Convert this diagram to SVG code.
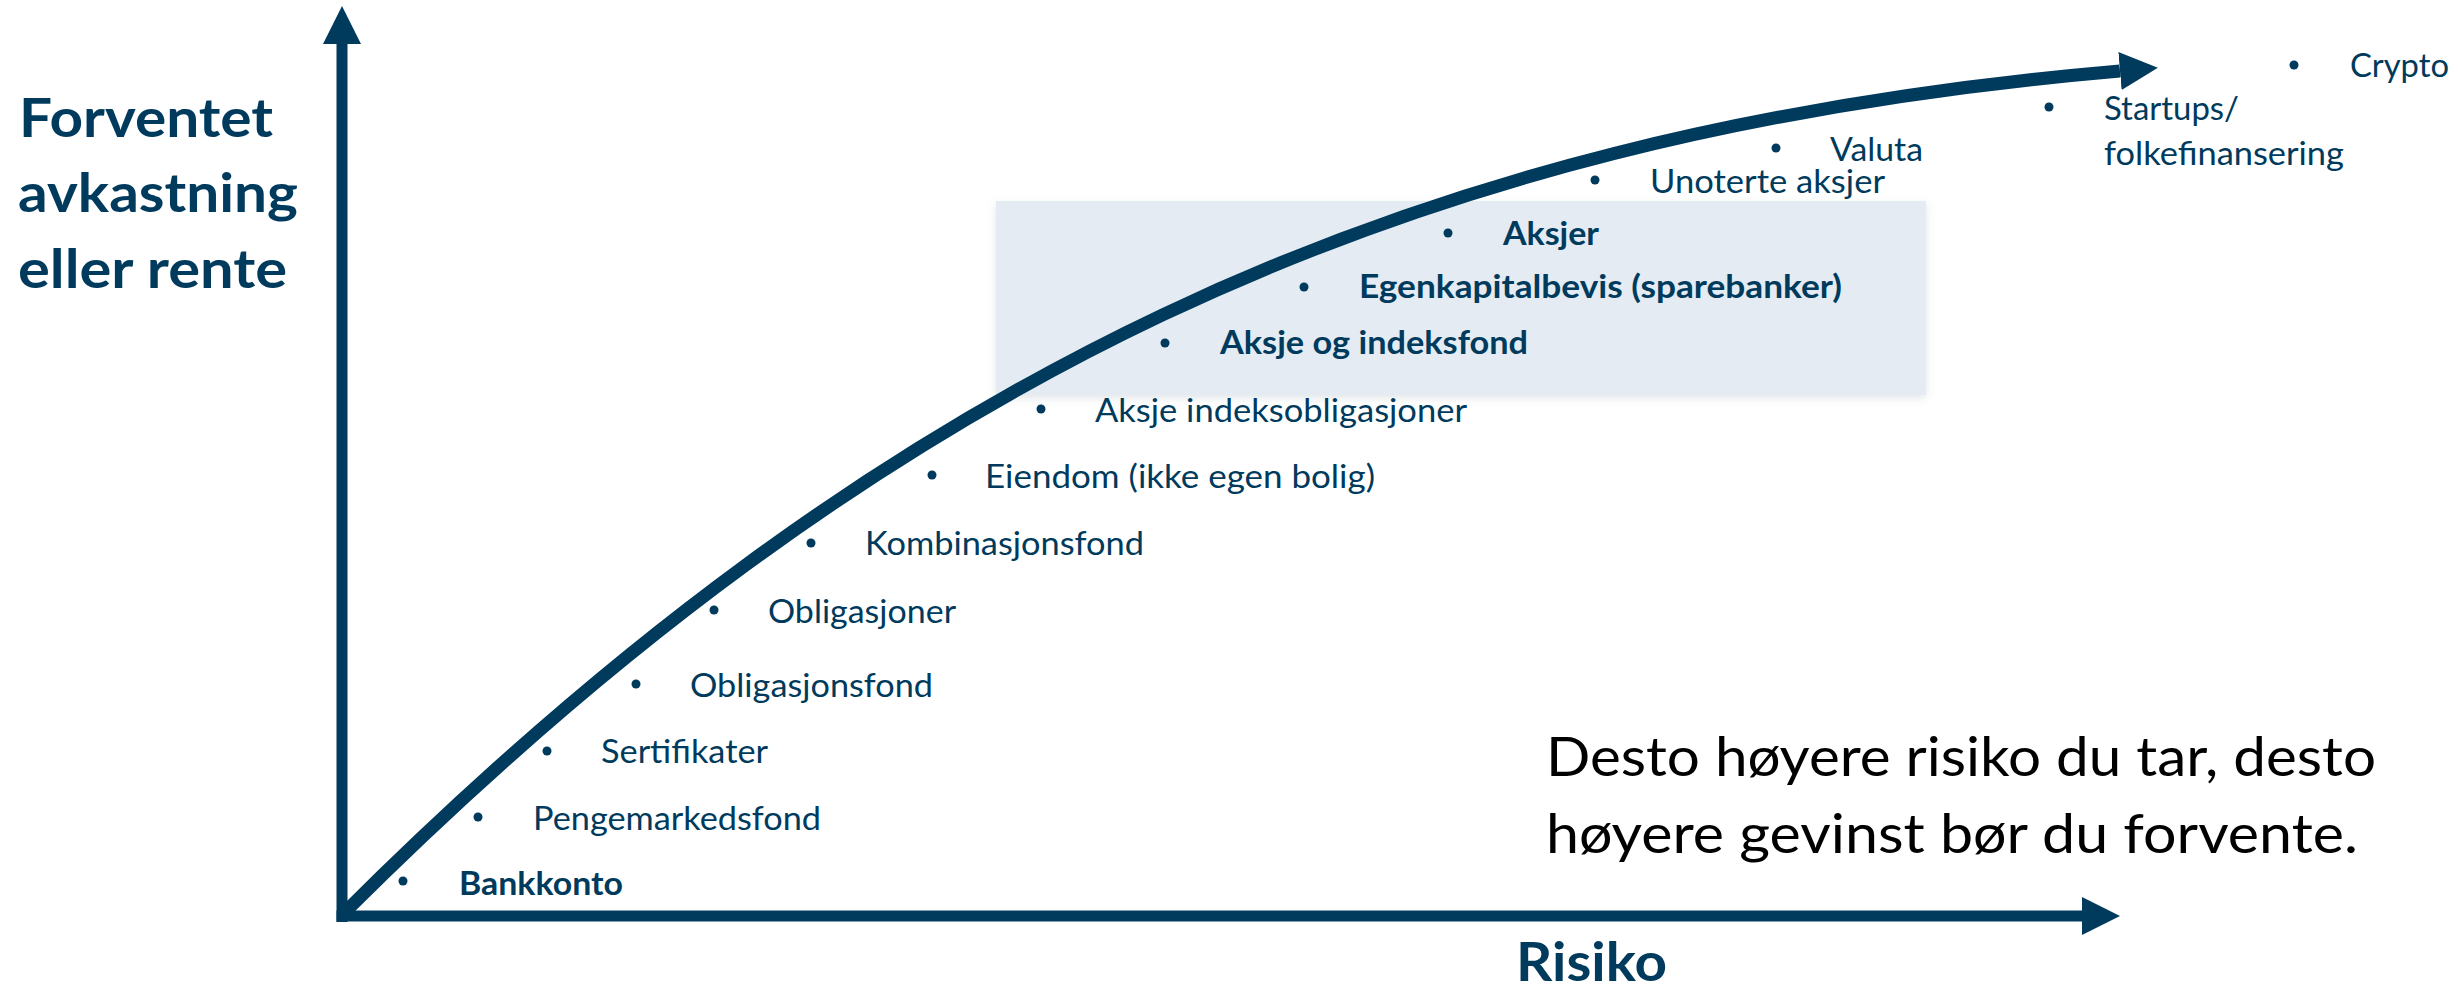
<svg xmlns="http://www.w3.org/2000/svg" width="2458" height="992" viewBox="0 0 2458 992">
  <style>
    .item { font-family: Lato, "Open Sans", "Liberation Sans", sans-serif; font-size: 32px; fill: #003A5C; }
    .b { font-weight: bold; }
    .big { font-family: Lato, "Open Sans", "Liberation Sans", sans-serif; font-size: 54px; }
    .lbl { fill: #003A5C; font-weight: bold; }
    .note { fill: #000000; }
    .dot { fill: #003A5C; }
    .axis { stroke: #003A5C; stroke-width: 11; fill: none; }
    .curve { stroke: #003A5C; stroke-width: 13; fill: none; }
  </style>
  <defs>
    <marker id="ah" markerUnits="userSpaceOnUse" markerWidth="38" markerHeight="38" viewBox="0 -18 36 36" refX="0" refY="0" orient="auto">
      <path d="M0,-18 L36,0 L0,18 z" fill="#003A5C"/>
    </marker>
    <filter id="soft" x="-5%" y="-10%" width="110%" height="120%">
      <feGaussianBlur in="SourceAlpha" stdDeviation="4"/>
      <feOffset dx="0" dy="3" result="b"/>
      <feFlood flood-color="#8a9aa8" flood-opacity="0.25"/>
      <feComposite in2="b" operator="in"/>
      <feMerge><feMergeNode/><feMergeNode in="SourceGraphic"/></feMerge>
    </filter>
  </defs>
  <rect width="2458" height="992" fill="#ffffff"/>

  <g id="highlight">
    <rect x="996" y="201" width="930" height="194" fill="#E4EBF3" filter="url(#soft)"/>
  </g>

  <g id="connectors">
    <line class="axis" x1="342" y1="922" x2="342" y2="44" marker-end="url(#ah)"/>
    <line class="axis" x1="336.5" y1="916" x2="2082" y2="916" marker-end="url(#ah)"/>
    <path class="curve" d="M343,914 C880,378 1400,133 2120,71" marker-end="url(#ah)"/>
  </g>

  <g id="y-label">
    <text class="big lbl" x="19" y="137" textLength="254" lengthAdjust="spacingAndGlyphs">Forventet</text>
    <text class="big lbl" x="18" y="212" textLength="280" lengthAdjust="spacingAndGlyphs">avkastning</text>
    <text class="big lbl" x="18" y="288" textLength="269" lengthAdjust="spacingAndGlyphs">eller rente</text>
  </g>
  <g id="x-label">
    <text class="big lbl" x="1516" y="981" textLength="151" lengthAdjust="spacingAndGlyphs">Risiko</text>
  </g>
  <g id="note">
    <text class="big note" x="1546" y="776" textLength="830" lengthAdjust="spacingAndGlyphs">Desto høyere risiko du tar, desto</text>
    <text class="big note" x="1546" y="853" textLength="812" lengthAdjust="spacingAndGlyphs">høyere gevinst bør du forvente.</text>
  </g>

  <g id="bankkonto"><circle class="dot" cx="403" cy="881" r="4.5"/><text class="item b" x="459" y="895" textLength="164" lengthAdjust="spacingAndGlyphs">Bankkonto</text></g>
  <g id="pengemarkedsfond"><circle class="dot" cx="478" cy="817" r="4.5"/><text class="item" x="533" y="830" textLength="288" lengthAdjust="spacingAndGlyphs">Pengemarkedsfond</text></g>
  <g id="sertifikater"><circle class="dot" cx="547" cy="751" r="4.5"/><text class="item" x="601" y="763" textLength="167" lengthAdjust="spacingAndGlyphs">Sertifikater</text></g>
  <g id="obligasjonsfond"><circle class="dot" cx="636" cy="684" r="4.5"/><text class="item" x="690" y="697" textLength="243" lengthAdjust="spacingAndGlyphs">Obligasjonsfond</text></g>
  <g id="obligasjoner"><circle class="dot" cx="714" cy="610" r="4.5"/><text class="item" x="768" y="623" textLength="188" lengthAdjust="spacingAndGlyphs">Obligasjoner</text></g>
  <g id="kombinasjonsfond"><circle class="dot" cx="811" cy="543" r="4.5"/><text class="item" x="865" y="555" textLength="279" lengthAdjust="spacingAndGlyphs">Kombinasjonsfond</text></g>
  <g id="eiendom"><circle class="dot" cx="932" cy="475" r="4.5"/><text class="item" x="985" y="488" textLength="390" lengthAdjust="spacingAndGlyphs">Eiendom (ikke egen bolig)</text></g>
  <g id="aksje-indeksobligasjoner"><circle class="dot" cx="1041" cy="409" r="4.5"/><text class="item" x="1095" y="422" textLength="372" lengthAdjust="spacingAndGlyphs">Aksje indeksobligasjoner</text></g>
  <g id="aksje-og-indeksfond"><circle class="dot" cx="1165" cy="343" r="4.5"/><text class="item b" x="1220" y="354" textLength="308" lengthAdjust="spacingAndGlyphs">Aksje og indeksfond</text></g>
  <g id="egenkapitalbevis"><circle class="dot" cx="1304" cy="287" r="4.5"/><text class="item b" x="1359" y="298" textLength="483" lengthAdjust="spacingAndGlyphs">Egenkapitalbevis (sparebanker)</text></g>
  <g id="aksjer"><circle class="dot" cx="1448" cy="233" r="4.5"/><text class="item b" x="1503" y="245" textLength="96" lengthAdjust="spacingAndGlyphs">Aksjer</text></g>
  <g id="unoterte-aksjer"><circle class="dot" cx="1595" cy="180" r="4.5"/><text class="item" x="1650" y="193" textLength="235" lengthAdjust="spacingAndGlyphs">Unoterte aksjer</text></g>
  <g id="valuta"><circle class="dot" cx="1776" cy="148" r="4.5"/><text class="item" x="1830" y="161" textLength="93" lengthAdjust="spacingAndGlyphs">Valuta</text></g>
  <g id="startups"><circle class="dot" cx="2049" cy="107" r="4.5"/><text class="item" x="2104" y="120" textLength="135" lengthAdjust="spacingAndGlyphs">Startups/</text><text class="item" x="2104" y="165" textLength="240" lengthAdjust="spacingAndGlyphs">folkefinansering</text></g>
  <g id="crypto"><circle class="dot" cx="2294" cy="65" r="4.5"/><text class="item" x="2350" y="77" textLength="99" lengthAdjust="spacingAndGlyphs">Crypto</text></g>
</svg>
